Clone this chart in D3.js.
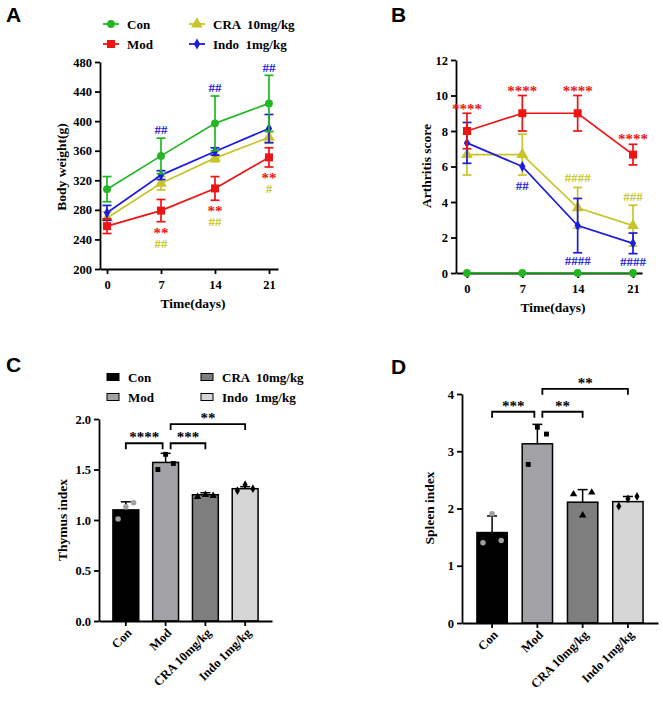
<!DOCTYPE html>
<html>
<head>
<meta charset="utf-8">
<script src="https://cdn.jsdelivr.net/npm/d3@7"></script>
<style>
body { margin: 0; background: #fff; }
svg text { font-family: "Liberation Serif", "Times New Roman", serif; font-weight: bold; fill: #000; }
.axis text { font-size: 12.5px; }
.axis path, .axis line { stroke: #000; stroke-width: 1.8px; }
text.letter { font-family: "Liberation Sans", Arial, sans-serif; font-size: 21px; }
</style>
</head>
<body>
<svg id="fig" width="663" height="702"></svg>
<script>
// ---- data ----
const days = [0, 7, 14, 21];
const groups = ["Con", "Mod", "CRA 10mg/kg", "Indo 1mg/kg"];
const legendNames = ["Con", "Mod", "CRA  10mg/kg", "Indo  1mg/kg"];

// body weight (g), mean and SD
const conWeight = [308, 353, 397, 424];
const modWeight = [258, 279, 309, 351];
const craWeight = [269, 316, 350, 378];
const indoWeight = [276, 327, 359, 390];
const conWeightErr = [17, 24, 37, 38];
const modWeightErr = [10, 15, 16, 13];
const craWeightErr = [8, 9, 5, 8];
const indoWeightErr = [10, 6, 5, 19];
const weightTicks = [200, 240, 280, 320, 360, 400, 440, 480];

// arthritis score
const conScore = [0, 0, 0, 0];
const modScore = [8, 9, 9, 6.67];
const craScore = [6.67, 6.67, 3.67, 2.67];
const indoScore = [7.33, 6, 2.67, 1.67];
const conScoreErr = [0, 0, 0, 0];
const modScoreErr = [1, 1, 1, 0.58];
const craScoreErr = [1.15, 1.15, 1.15, 1.15];
const indoScoreErr = [1.15, 0, 1.53, 0.58];
const scoreTicks = [0, 2, 4, 6, 8, 10, 12];

// significance marks on line charts: day, visual centre value, text, group index
const weightMarks = [
  {day: 7, v: 389, t: "##", g: 3}, {day: 14, v: 445, t: "##", g: 3}, {day: 21, v: 473, t: "##", g: 3},
  {day: 7, v: 252, t: "**", g: 1}, {day: 7, v: 234.5, t: "##", g: 2},
  {day: 14, v: 282.5, t: "**", g: 1}, {day: 14, v: 263.5, t: "##", g: 2},
  {day: 21, v: 326, t: "**", g: 1}, {day: 21, v: 308.5, t: "#", g: 2}
];
const scoreMarks = [
  {day: 0, v: 9.4, t: "****", g: 1}, {day: 7, v: 10.4, t: "****", g: 1},
  {day: 14, v: 10.4, t: "****", g: 1}, {day: 21, v: 7.7, t: "****", g: 1},
  {day: 7, v: 4.9, t: "##", g: 3},
  {day: 14, v: 5.4, t: "####", g: 2}, {day: 14, v: 0.68, t: "####", g: 3},
  {day: 21, v: 4.3, t: "###", g: 2}, {day: 21, v: 0.62, t: "####", g: 3}
];

// thymus index
const thymusMean = [1.10, 1.57, 1.25, 1.31];
const thymusErr = [0.08, 0.09, 0.02, 0.02];
const thymusPoints = [[1.01, 1.13, 1.17], [1.50, 1.65, 1.56], [1.23, 1.25, 1.24], [1.29, 1.35, 1.31]];
const thymusTicks = [0, 0.5, 1.0, 1.5, 2.0];
const thymusBrackets = [
  {a: 0, b: 1, v: 1.76, t: "****"}, {a: 1, b: 2, v: 1.76, t: "***"}, {a: 1, b: 3, v: 1.95, t: "**"}
];

// spleen index
const spleenMean = [1.58, 3.13, 2.11, 2.12];
const spleenErr = [0.29, 0.34, 0.22, 0.09];
const spleenPoints = [[1.40, 1.91, 1.44], [2.77, 3.42, 3.30], [2.25, 1.88, 2.28], [2.04, 2.17, 2.21]];
const spleenTicks = [0, 1, 2, 3, 4];
const spleenBrackets = [
  {a: 0, b: 1, v: 3.69, t: "***"}, {a: 1, b: 2, v: 3.69, t: "**"}, {a: 1, b: 3, v: 4.09, t: "**"}
];

// ---- styles ----
const lineColors = ["#22b622", "#ee1414", "#c8c52a", "#1c1cdc"];
const lineSymbols = [d3.symbolCircle, d3.symbolSquare, d3.symbolTriangle, d3.symbolDiamond];
const symbolSizes = [48, 64, 60, 34];
const barFills = ["#000000", "#a2a2a6", "#7e7e7e", "#d6d6d6"];
const pointFills = ["#a0a0a0", "#000", "#000", "#000"];

const svg = d3.select("#fig");

function letter(t, x, y) {
  svg.append("text").attr("class", "letter").attr("x", x).attr("y", y).text(t);
}

function yTitle(t, x, y) {
  svg.append("text").attr("transform", `translate(${x},${y}) rotate(-90)`)
    .attr("text-anchor", "middle").style("font-size", "13.5px").text(t);
}

function drawLinePanel(opt) {
  const x = d3.scaleLinear().domain(opt.xDomain).range(opt.xRange);
  const y = d3.scaleLinear().domain(opt.yDomain).range(opt.yRange);
  const g = svg.append("g");

  g.append("g").attr("class", "axis").attr("transform", `translate(${opt.xRange[0]},0)`)
    .call(d3.axisLeft(y).tickValues(opt.yTicks).tickSize(5).tickSizeOuter(0).tickPadding(3));
  g.append("g").attr("class", "axis").attr("transform", `translate(0,${opt.yRange[0]})`)
    .call(d3.axisBottom(x).tickValues(days).tickSize(5).tickSizeOuter(0).tickPadding(6));

  opt.order.forEach(i => {
    const pts = days.map((d, k) => ({d: d, m: opt.means[i][k], e: opt.errs[i][k]}));
    const col = lineColors[i];
    g.append("path").datum(pts)
      .attr("d", d3.line().x(p => x(p.d)).y(p => y(p.m)))
      .attr("fill", "none").attr("stroke", col).attr("stroke-width", 1.7);
    const eb = g.append("g").attr("stroke", col).attr("stroke-width", 1.7);
    pts.filter(p => p.e > 0).forEach(p => {
      eb.append("line").attr("x1", x(p.d)).attr("x2", x(p.d))
        .attr("y1", y(p.m - p.e)).attr("y2", y(p.m + p.e));
      [p.m - p.e, p.m + p.e].forEach(v => eb.append("line")
        .attr("x1", x(p.d) - 4.5).attr("x2", x(p.d) + 4.5).attr("y1", y(v)).attr("y2", y(v)));
    });
    g.selectAll(null).data(pts).enter().append("path")
      .attr("transform", p => `translate(${x(p.d)},${y(p.m)})`)
      .attr("d", d3.symbol(lineSymbols[i], symbolSizes[i]))
      .attr("fill", col);
  });

  g.selectAll(null).data(opt.marks).enter().append("text")
    .attr("x", m => x(m.day)).attr("y", m => y(m.v))
    .attr("dy", m => m.t[0] === "*" ? "0.5em" : "0.34em")
    .attr("text-anchor", "middle")
    .style("font-size", m => m.t[0] === "*" ? "15px" : "13px")
    .style("fill", m => lineColors[m.g])
    .text(m => m.t);

  svg.append("text").attr("x", (opt.xRange[0] + opt.xRange[1]) / 2 + 4).attr("y", opt.titleY)
    .attr("text-anchor", "middle").style("font-size", "13.5px").text("Time(days)");
}

function drawBarPanel(opt) {
  const x = d3.scaleBand().domain(groups).range(opt.xRange).padding(opt.pad);
  const y = d3.scaleLinear().domain(opt.yDomain).range(opt.yRange);
  const bw = x.bandwidth();
  const cx = i => x(groups[i]) + bw / 2;
  const g = svg.append("g");

  g.selectAll(null).data(opt.means).enter().append("rect")
    .attr("x", (d, i) => x(groups[i])).attr("y", d => y(d))
    .attr("width", bw).attr("height", d => y(0) - y(d))
    .attr("fill", (d, i) => barFills[i]).attr("stroke", "#000").attr("stroke-width", 1.5);

  opt.means.forEach((m, i) => {
    const top = y(m + opt.errs[i]);
    g.append("line").attr("x1", cx(i)).attr("x2", cx(i)).attr("y1", y(m)).attr("y2", top)
      .attr("stroke", "#000").attr("stroke-width", 1.5);
    g.append("line").attr("x1", cx(i) - 5).attr("x2", cx(i) + 5).attr("y1", top).attr("y2", top)
      .attr("stroke", "#000").attr("stroke-width", 1.5);
    opt.points[i].forEach((v, k) => {
      g.append("path")
        .attr("transform", `translate(${cx(i) + (k - 1) * bw * 0.3},${y(v)})`)
        .attr("d", d3.symbol(i === 0 ? d3.symbolCircle : lineSymbols[i], i === 3 ? 22 : 24))
        .attr("fill", pointFills[i]);
    });
  });

  g.append("g").attr("class", "axis").attr("transform", `translate(${opt.xRange[0]},0)`)
    .call(d3.axisLeft(y).tickValues(opt.yTicks).tickFormat(opt.fmt).tickSize(5).tickSizeOuter(0).tickPadding(3));
  const xa = g.append("g").attr("class", "axis").attr("transform", `translate(0,${opt.yRange[0]})`)
    .call(d3.axisBottom(x).tickSize(5).tickSizeOuter(0));
  xa.selectAll(".tick text")
    .attr("text-anchor", "end").attr("dy", "0.3em")
    .attr("transform", "translate(4,10) rotate(-45)")
    .attr("y", 0).attr("x", 0);

  opt.brackets.forEach(b => {
    const x1 = cx(b.a) + (b.a === 1 ? 5 : 0);
    const x2 = cx(b.b) - (b.b === 1 ? 3 : 0);
    const yy = y(b.v);
    g.append("path")
      .attr("d", `M${x1},${yy + 6}V${yy}H${x2}V${yy + 6}`)
      .attr("fill", "none").attr("stroke", "#000").attr("stroke-width", 1.8);
    g.append("text").attr("x", (x1 + x2) / 2).attr("y", yy - 1)
      .attr("text-anchor", "middle").style("font-size", "15px").text(b.t);
  });
}

function lineLegend(x1, x2, y1, y2) {
  const pos = [[x1, y1], [x1, y2], [x2, y1], [x2, y2]];
  pos.forEach((p, i) => {
    svg.append("line").attr("x1", p[0] - 8).attr("x2", p[0] + 8).attr("y1", p[1]).attr("y2", p[1])
      .attr("stroke", lineColors[i]).attr("stroke-width", 1.8);
    svg.append("path").attr("transform", `translate(${p[0]},${p[1]})`)
      .attr("d", d3.symbol(lineSymbols[i], symbolSizes[i])).attr("fill", lineColors[i]);
    svg.append("text").attr("x", p[0] + 16).attr("y", p[1]).attr("dy", "0.35em")
      .style("font-size", "13px").style("white-space", "pre").text(legendNames[i]);
  });
}

function barLegend(x1, x2, y1, y2) {
  const pos = [[x1, y1], [x1, y2], [x2, y1], [x2, y2]];
  pos.forEach((p, i) => {
    svg.append("rect").attr("x", p[0] - 6).attr("y", p[1] - 3.5).attr("width", 12).attr("height", 7)
      .attr("fill", barFills[i]).attr("stroke", "#000").attr("stroke-width", 1);
    svg.append("text").attr("x", p[0] + 15).attr("y", p[1]).attr("dy", "0.35em")
      .style("font-size", "13px").style("white-space", "pre").text(legendNames[i]);
  });
}

// ---- panel A ----
letter("A", 6, 22);
lineLegend(111, 197, 24, 44);
drawLinePanel({
  xDomain: [-0.91, 22.17], xRange: [100, 278],
  yDomain: [200, 480], yRange: [269, 62], yTicks: weightTicks,
  means: [conWeight, modWeight, craWeight, indoWeight],
  errs: [conWeightErr, modWeightErr, craWeightErr, indoWeightErr],
  order: [2, 3, 0, 1], marks: weightMarks, titleY: 308
});
yTitle("Body weight(g)", 66, 167);

// ---- panel B ----
letter("B", 391, 22);
drawLinePanel({
  xDomain: [-1.39, 22.14], xRange: [456, 642],
  yDomain: [0, 12], yRange: [273, 60], yTicks: scoreTicks,
  means: [conScore, modScore, craScore, indoScore],
  errs: [conScoreErr, modScoreErr, craScoreErr, indoScoreErr],
  order: [2, 3, 1, 0], marks: scoreMarks, titleY: 312
});
yTitle("Arthritis score", 431, 166);

// ---- panel C ----
letter("C", 6, 372);
barLegend(113, 207, 377, 397);
drawBarPanel({
  xRange: [99, 272], pad: 0.35,
  yDomain: [0, 2], yRange: [621, 419], yTicks: thymusTicks, fmt: d3.format(".1f"),
  means: thymusMean, errs: thymusErr, points: thymusPoints, brackets: thymusBrackets
});
yTitle("Thymus index", 67, 520);

// ---- panel D ----
letter("D", 391, 374);
drawBarPanel({
  xRange: [462, 658], pad: 0.33,
  yDomain: [0, 4], yRange: [623, 394], yTicks: spleenTicks, fmt: d3.format("d"),
  means: spleenMean, errs: spleenErr, points: spleenPoints, brackets: spleenBrackets
});
yTitle("Spleen index", 434, 508);
</script>
</body>
</html>
